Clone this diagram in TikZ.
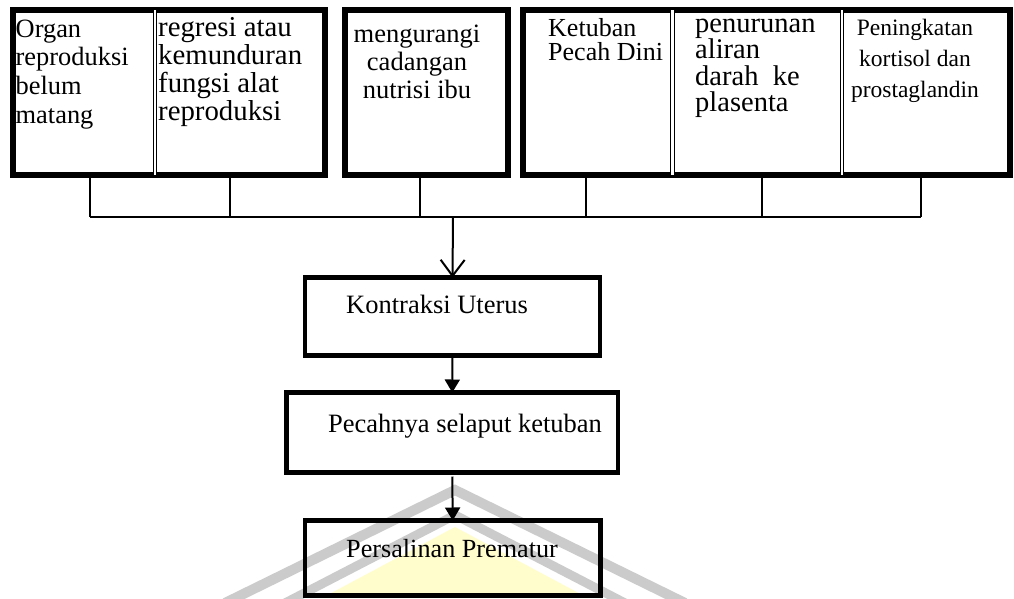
\documentclass[tikz,border=0pt]{standalone}
\usepackage{fontspec}
\setmainfont{Liberation Serif}
\usetikzlibrary{arrows.meta}
\definecolor{wmgray}{HTML}{CBCBCB}
\definecolor{wmyellow}{HTML}{FFFDCC}
\newcommand{\fsz}[2]{\fontsize{#1}{#2}\selectfont\lineskiplimit=-100pt}
\begin{document}
\begin{tikzpicture}[x=1pt,y=-1pt,
  cell/.style={inner sep=0pt,outer sep=0pt},
  group/.style={line width=6pt},
  divider/.style={line width=1.3pt,double,double distance=2.2pt},
  stepbox/.style={draw,line width=4.5pt,inner sep=0pt,outer sep=0pt},
  lbl/.style={inner sep=0pt,align=left,anchor=base west},
  clbl/.style={inner sep=0pt,align=center,anchor=base},
  wire/.style={line width=1.2pt},
  flow/.style={line width=2pt,-{Triangle[length=13pt,width=15pt]}}]
\path[use as bounding box,fill=white] (0,0) rectangle (1014,598);
\draw[wmgray,line width=10pt] (225,603) -- (455,490) -- (685,603);
\draw[wmgray,line width=9pt] (285,603) -- (455,515) -- (625,603);
\fill[wmyellow] (322,598) -- (455,527) -- (588,598) -- cycle;
\node[cell,minimum width=142.5pt,minimum height=164.5pt] (orgn) at (83.75,92.25) {};
\node[cell,minimum width=170pt,minimum height=164.5pt] (regr) at (240,92.25) {};
\node[cell,minimum width=163.5pt,minimum height=164.5pt] (nutr) at (426.25,92.25) {};
\node[cell,minimum width=149.5pt,minimum height=164.5pt] (ketb) at (597.75,92.25) {};
\node[cell,minimum width=169.5pt,minimum height=164.5pt] (alir) at (757.25,92.25) {};
\node[cell,minimum width=167.5pt,minimum height=164.5pt] (kort) at (925.75,92.25) {};
\draw[group] (orgn.north west) rectangle (regr.south east);
\draw[group] (nutr.north west) rectangle (nutr.south east);
\draw[group] (ketb.north west) rectangle (kort.south east);
\draw[divider] (orgn.north east) -- (orgn.south east);
\draw[divider] (ketb.north east) -- (ketb.south east);
\draw[divider] (alir.north east) -- (alir.south east);
\node[lbl,font={\fsz{26.4pt}{28.7pt}}] (orgnT) at (15.5,123.1) {Organ\\reproduksi\\belum\\matang};
\node[lbl,font={\fsz{28.8pt}{28.3pt}}] (regrT) at (158,120.9) {regresi atau\\kemunduran\\fungsi alat\\reproduksi};
\node[clbl,font={\fsz{26.5pt}{28pt}}] (nutrT) at (417,98) {mengurangi\\cadangan\\nutrisi ibu};
\node[lbl,font={\fsz{26pt}{24pt}}] (ketbT) at (548,60) {Ketuban\\Pecah Dini};
\node[lbl,font={\fsz{28.5pt}{26.5pt}}] (alirT) at (695,111.5) {penurunan\\aliran\\darah\ \ ke\\plasenta};
\node[clbl,font={\fsz{23.5pt}{31pt}}] (kortT) at (915,97) {Peningkatan\\kortisol dan\\prostaglandin};
\coordinate (j1) at (90,217);
\coordinate (j2) at (230,217);
\coordinate (j3) at (420,217);
\coordinate (j4) at (586,217);
\coordinate (j5) at (762,217);
\coordinate (j6) at (921,217);
\coordinate (hub) at (453,217);
\draw[wire] (j1 |- orgn.south) -- (j1);
\draw[wire] (j2 |- regr.south) -- (j2);
\draw[wire] (j3 |- nutr.south) -- (j3);
\draw[wire] (j4 |- ketb.south) -- (j4);
\draw[wire] (j5 |- alir.south) -- (j5);
\draw[wire] (j6 |- kort.south) -- (j6);
\draw[wire] (j1) -- (j6);
\node[stepbox,minimum width=295pt,minimum height=78pt] (kont) at (452.5,316.5) {};
\node[stepbox,minimum width=331.5pt,minimum height=80pt] (pech) at (452.25,432.5) {};
\node[stepbox,minimum width=295.5pt,minimum height=75pt] (pers) at (452.75,558) {};
\node[lbl,font={\fsz{26.5pt}{28pt}}] (kontT) at (346,313) {Kontraksi Uterus};
\node[lbl,font={\fsz{26.5pt}{28pt}}] (pechT) at (328,432) {Pecahnya selaput ketuban};
\node[lbl,font={\fsz{26.2pt}{28pt}}] (persT) at (346,557) {Persalinan Prematur};
\draw[line width=2pt,-{Straight Barb[length=16pt,width=24pt]}] (hub) -- (kont.north);
\draw[flow] (kont.south) -- (pech.north);
\draw[flow] ([yshift=-4pt]pech.south) -- (pers.north);
\end{tikzpicture}
\end{document}
